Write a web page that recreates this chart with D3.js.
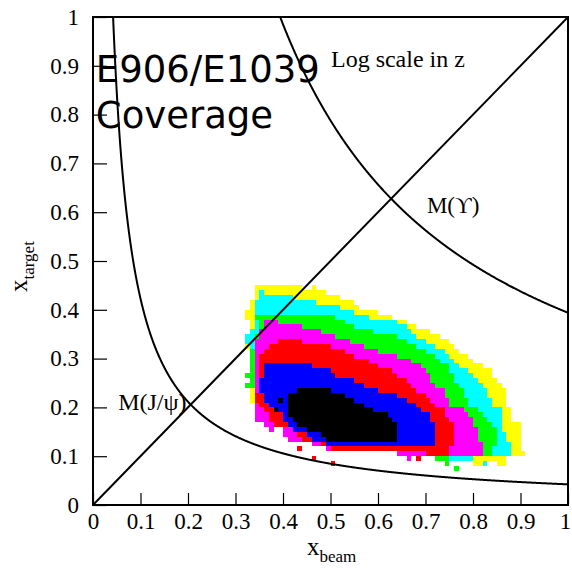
<!DOCTYPE html>
<html>
<head>
<meta charset="utf-8">
<script src="https://cdn.jsdelivr.net/npm/d3@7"></script>
<style>
body{margin:0;background:#fff;}
svg{display:block;}
.serif{font-family:"Liberation Serif","Times New Roman",serif;fill:#000;}
</style>
</head>
<body>
<svg id="chart" width="572" height="568"></svg>
<script>
// ---- data ----
// each band: [y bin lower edge, x from, x to] -> cells whose centre lies inside get that level (or more)
var bandYellow = [
  [0.44,0.343,0.436],[0.43,0.339,0.488],[0.42,0.339,0.52],[0.41,0.335,0.545],[0.40,0.331,0.558],
  [0.39,0.322,0.60],[0.38,0.322,0.625],[0.37,0.326,0.657],[0.36,0.331,0.678],[0.35,0.326,0.714],
  [0.34,0.316,0.731],[0.33,0.316,0.747],[0.32,0.322,0.756],[0.31,0.331,0.768],[0.30,0.331,0.794],
  [0.29,0.331,0.804],[0.28,0.331,0.821],[0.27,0.331,0.836],[0.26,0.326,0.84],[0.25,0.331,0.846],
  [0.24,0.331,0.857],[0.23,0.335,0.867],[0.22,0.335,0.872],[0.21,0.335,0.872],[0.20,0.337,0.874],
  [0.19,0.341,0.882],[0.18,0.341,0.882],[0.17,0.345,0.882],[0.16,0.36,0.895],[0.15,0.40,0.899],
  [0.14,0.40,0.899],[0.13,0.415,0.899],[0.12,0.46,0.899],[0.11,0.49,0.899],[0.10,0.64,0.895],
  [0.09,0.72,0.87]
];
var bandCyan = [
  [0.42,0.352,0.42],[0.41,0.343,0.47],[0.40,0.343,0.515],[0.39,0.339,0.55],
  [0.38,0.339,0.583],[0.37,0.341,0.636],[0.36,0.341,0.657],[0.35,0.331,0.672],[0.34,0.32,0.684],
  [0.33,0.32,0.699],[0.32,0.331,0.72],[0.31,0.335,0.735],[0.30,0.335,0.745],[0.29,0.335,0.756],
  [0.28,0.335,0.773],[0.27,0.335,0.789],[0.26,0.331,0.798],[0.25,0.335,0.808],[0.24,0.335,0.821],
  [0.23,0.337,0.829],[0.22,0.337,0.831],[0.21,0.337,0.836],[0.20,0.339,0.84],[0.19,0.341,0.857],
  [0.18,0.341,0.861],[0.17,0.345,0.861],[0.16,0.36,0.863],[0.15,0.40,0.863],[0.14,0.40,0.867],
  [0.13,0.415,0.872],[0.12,0.46,0.878],[0.11,0.49,0.878],[0.10,0.64,0.878],[0.09,0.72,0.80]
];
var bandGreen = [
  [0.38,0.343,0.505],[0.37,0.347,0.531],[0.36,0.347,0.552],[0.35,0.347,0.59],[0.34,0.341,0.636],
  [0.33,0.341,0.657],[0.32,0.337,0.684],[0.31,0.335,0.699],[0.30,0.335,0.72],[0.29,0.335,0.731],
  [0.28,0.335,0.745],[0.27,0.335,0.752],[0.26,0.335,0.756],[0.25,0.335,0.762],[0.24,0.335,0.773],
  [0.23,0.337,0.779],[0.22,0.337,0.783],[0.21,0.337,0.787],[0.20,0.339,0.794],[0.19,0.341,0.811],
  [0.18,0.341,0.825],[0.17,0.345,0.829],[0.16,0.36,0.836],[0.15,0.40,0.846],[0.14,0.40,0.851],
  [0.13,0.415,0.851],[0.12,0.46,0.846],[0.11,0.49,0.842],[0.10,0.64,0.842],[0.09,0.72,0.75]
];
var bandMagenta = [
  [0.37,0.362,0.394],[0.36,0.356,0.436],[0.35,0.352,0.478],[0.34,0.347,0.509],[0.33,0.345,0.541],
  [0.32,0.341,0.573],[0.31,0.341,0.604],[0.30,0.341,0.636],[0.29,0.339,0.667],[0.28,0.339,0.688],
  [0.27,0.339,0.699],[0.26,0.339,0.705],[0.25,0.339,0.714],[0.24,0.339,0.72],[0.23,0.339,0.735],
  [0.22,0.337,0.741],[0.21,0.337,0.745],[0.20,0.337,0.752],[0.19,0.341,0.777],[0.18,0.341,0.794],
  [0.17,0.345,0.798],[0.16,0.36,0.804],[0.15,0.40,0.808],[0.14,0.40,0.811],[0.13,0.415,0.815],
  [0.12,0.46,0.819],[0.11,0.49,0.821],[0.10,0.64,0.821]
];
var bandRed = [
  [0.33,0.394,0.436],[0.32,0.373,0.499],[0.31,0.356,0.531],[0.30,0.347,0.552],[0.29,0.347,0.579],
  [0.28,0.347,0.604],[0.27,0.347,0.629],[0.26,0.347,0.636],[0.25,0.347,0.657],[0.24,0.347,0.672],
  [0.23,0.347,0.684],[0.22,0.345,0.699],[0.21,0.345,0.709],[0.20,0.35,0.724],[0.19,0.365,0.737],
  [0.18,0.37,0.741],[0.17,0.375,0.745],[0.16,0.38,0.756],[0.15,0.42,0.762],[0.14,0.43,0.762],
  [0.13,0.436,0.762],[0.12,0.48,0.756],[0.11,0.50,0.752],[0.10,0.70,0.752]
];
var bandBlue = [
  [0.28,0.362,0.457],[0.27,0.358,0.499],[0.26,0.356,0.509],[0.25,0.352,0.552],[0.24,0.352,0.573],
  [0.23,0.352,0.604],[0.22,0.356,0.636],[0.21,0.356,0.657],[0.20,0.37,0.678],[0.19,0.39,0.693],
  [0.18,0.40,0.705],[0.17,0.40,0.714],[0.16,0.41,0.72],[0.15,0.425,0.724],[0.14,0.455,0.724],
  [0.13,0.46,0.724],[0.12,0.49,0.724]
];
var bandBlack = [
  [0.23,0.432,0.499],[0.22,0.415,0.531],[0.21,0.408,0.552],[0.20,0.408,0.573],[0.19,0.408,0.594],
  [0.18,0.415,0.615],[0.17,0.42,0.629],[0.16,0.43,0.636],[0.15,0.45,0.64],[0.14,0.48,0.64],
  [0.13,0.49,0.64]
];
// single stray bins [x, y, level]
var strayCells = [
  [0.435,0.115,5],[0.465,0.095,5],[0.505,0.085,5],[0.395,0.215,7],[0.385,0.195,7],
  [0.325,0.265,3],[0.325,0.245,3],[0.745,0.085,3],[0.765,0.075,3],[0.805,0.085,1],
  [0.815,0.085,1],[0.825,0.085,2],[0.855,0.085,1],[0.865,0.085,1],[0.905,0.105,1],
  [0.375,0.155,4],[0.665,0.095,4],[0.685,0.095,5],[0.355,0.435,2],[0.375,0.425,2],
  [0.465,0.445,1],[0.335,0.395,1],[0.325,0.385,1]
];
var levelColors = ["#ffff00","#00ffff","#00ff00","#ff00ff","#ff0000","#0000ff","#000000"];

// mass curves x_beam * x_target = M^2/s
var massCurves = [
  {name:"J/psi", tau:0.0423},
  {name:"Upsilon", tau:0.394}
];

var majorTicks = [0,0.1,0.2,0.3,0.4,0.5,0.6,0.7,0.8,0.9,1];
var tickLabels = ["0","0.1","0.2","0.3","0.4","0.5","0.6","0.7","0.8","0.9","1"];
var minorTicks = d3.range(0,51).map(function(k){ return k/50; });

// ---- layout ----
var svg = d3.select("#chart");
var X0 = 93, X1 = 568, Y0 = 505, Y1 = 17;
var x = d3.scaleLinear().domain([0,1]).range([X0,X1]);
var y = d3.scaleLinear().domain([0,1]).range([Y0,Y1]);

svg.append("defs").append("clipPath").attr("id","plotclip")
  .append("rect").attr("x",X0).attr("y",Y1).attr("width",X1-X0).attr("height",Y0-Y1);

// ---- histogram bins ----
var nb = 100, bw = 1/nb, grid = {};
[bandYellow,bandCyan,bandGreen,bandMagenta,bandRed,bandBlue,bandBlack].forEach(function(band, li){
  band.forEach(function(r){
    var j = Math.round(r[0]/bw);
    for (var i=0;i<nb;i++){
      var xc = (i+0.5)*bw;
      if (xc>=r[1] && xc<=r[2]){
        var k = i+","+j;
        grid[k] = Math.max(grid[k]||0, li+1);
      }
    }
  });
});
strayCells.forEach(function(c){
  grid[Math.floor(c[0]/bw)+","+Math.floor(c[1]/bw)] = c[2];
});
var cells = Object.keys(grid).map(function(k){
  var p = k.split(",");
  return {i:+p[0], j:+p[1], lev:grid[k]};
});

svg.append("g").selectAll("rect").data(cells).enter().append("rect")
  .attr("x",function(d){ return Math.round(x(d.i*bw)); })
  .attr("width",function(d){ return Math.round(x((d.i+1)*bw))-Math.round(x(d.i*bw)); })
  .attr("y",function(d){ return Math.round(y((d.j+1)*bw)); })
  .attr("height",function(d){ return Math.round(y(d.j*bw))-Math.round(y((d.j+1)*bw)); })
  .attr("fill",function(d){ return levelColors[d.lev-1]; })
  .attr("shape-rendering","crispEdges");

// ---- lines ----
var lines = svg.append("g").attr("clip-path","url(#plotclip)");
var line = d3.line().x(function(d){ return x(d[0]); }).y(function(d){ return y(d[1]); });

massCurves.forEach(function(c){
  var pts = d3.range(c.tau, 1.0001, 0.001).map(function(v){ return [v, c.tau/v]; });
  lines.append("path").attr("d",line(pts))
    .attr("fill","none").attr("stroke","#000").attr("stroke-width",2);
});
// diagonal x_beam = x_target
lines.append("path").attr("d",line([[0,0],[1,1]]))
  .attr("fill","none").attr("stroke","#000").attr("stroke-width",2);

// ---- axes ----
var gx = svg.append("g").attr("transform","translate(0,"+Y0+")");
gx.call(d3.axisBottom(x).tickValues(minorTicks).tickSize(-6).tickFormat(""));
gx.call(d3.axisBottom(x).tickValues(majorTicks).tickSize(-12).tickPadding(8)
  .tickFormat(function(d,i){ return tickLabels[i]; }));
gx.selectAll(".tick text").filter(function(d){ return d===1; }).attr("dx",-3);
var gy = svg.append("g").attr("transform","translate("+X0+",0)");
gy.call(d3.axisLeft(y).tickValues(minorTicks).tickSize(-7).tickFormat(""));
gy.call(d3.axisLeft(y).tickValues(majorTicks).tickSize(-14).tickPadding(14)
  .tickFormat(function(d,i){ return tickLabels[i]; }));
svg.selectAll(".domain").remove();
svg.selectAll(".tick line").attr("stroke","#000").attr("stroke-width",1.2);
svg.selectAll(".tick text").attr("class","serif").style("font-size","23px")
  .attr("font-family",null).attr("fill","#000");

// frame
svg.append("rect").attr("x",X0).attr("y",Y1).attr("width",X1-X0).attr("height",Y0-Y1)
  .attr("fill","none").attr("stroke","#000").attr("stroke-width",2);

// ---- texts ----
var title = svg.append("text").attr("font-family","'DejaVu Sans',sans-serif")
  .attr("font-size",37).attr("fill","#000");
title.append("tspan").attr("x",x(0.006)).attr("y",y(0.867)).text("E906/E1039");
title.append("tspan").attr("x",x(0.006)).attr("y",y(0.773)).text("Coverage");

svg.append("text").attr("class","serif").attr("x",x(0.501)).attr("y",y(0.898))
  .style("font-size","24px").text("Log scale in z");
svg.append("text").attr("class","serif").attr("x",x(0.703)).attr("y",y(0.598))
  .style("font-size","23px").text("M(\u03d2)");
svg.append("text").attr("class","serif").attr("x",x(0.053)).attr("y",y(0.195))
  .style("font-size","24px").text("M(J/\u03c8)");

// axis titles
var xt = svg.append("text").attr("class","serif").attr("x",307).attr("y",555).style("font-size","25px");
xt.append("tspan").text("x");
xt.append("tspan").attr("dy",7).style("font-size","17px").text("beam");

var yt = svg.append("text").attr("class","serif")
  .attr("transform","translate(27,292) rotate(-90)").style("font-size","25px");
yt.append("tspan").text("x");
yt.append("tspan").attr("dy",7).style("font-size","17px").text("target");
</script>
</body>
</html>
